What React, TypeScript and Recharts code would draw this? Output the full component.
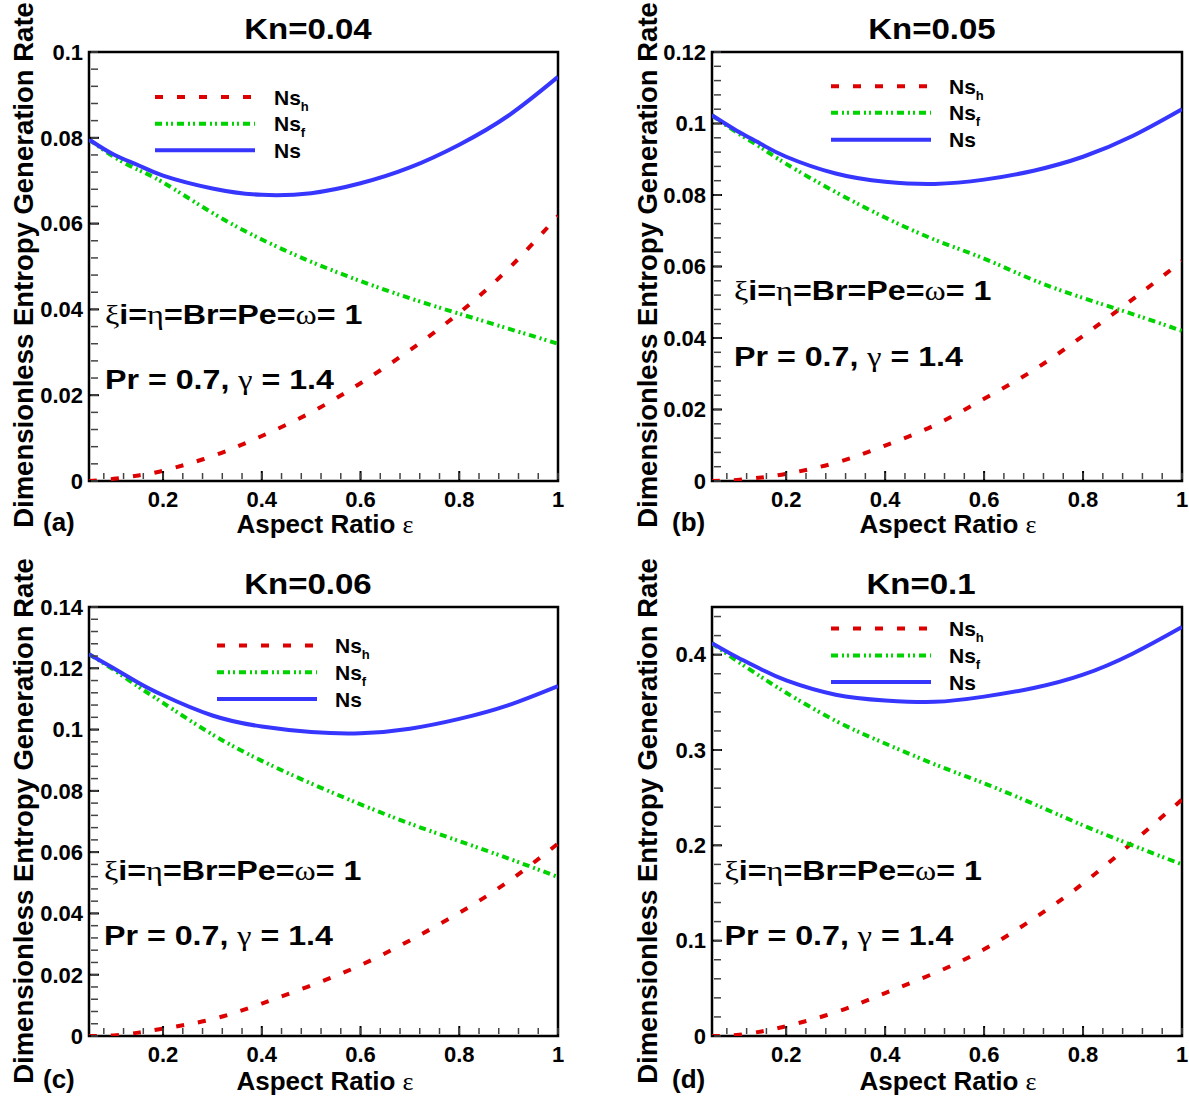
import { LineChart, Line, XAxis, YAxis, ReferenceArea } from 'recharts'

// ─── Data ─────────────────────────────────────────────────────────────────────

const EPS = [0.05, 0.1, 0.15, 0.2, 0.3, 0.4, 0.5, 0.6, 0.7, 0.8, 0.9, 1.0]

// Kn = 0.04
const A_NSH = [0, 0.0005, 0.0013, 0.0024, 0.0058, 0.0105, 0.016, 0.0228, 0.0305, 0.0392, 0.0495, 0.0618]
const A_NSF = [0.0796, 0.0756, 0.0725, 0.0696, 0.0625, 0.0563, 0.0511, 0.0466, 0.0426, 0.039, 0.0355, 0.032]
const A_NS = [0.0796, 0.0761, 0.0736, 0.0712, 0.0682, 0.0667, 0.0671, 0.0694, 0.0731, 0.0784, 0.0852, 0.0942]

// Kn = 0.05
const B_NSH = [0, 0.0003, 0.001, 0.002, 0.0051, 0.0099, 0.0156, 0.023, 0.031, 0.0406, 0.0508, 0.0615]
const B_NSF = [0.1023, 0.0975, 0.0932, 0.0887, 0.0808, 0.0737, 0.0675, 0.0622, 0.0562, 0.0512, 0.0467, 0.042]
const B_NS = [0.1023, 0.098, 0.0942, 0.0907, 0.086, 0.0837, 0.0831, 0.0843, 0.0868, 0.0907, 0.0965, 0.104]

// Kn = 0.06
const C_NSH = [0, 0.0002, 0.0011, 0.0024, 0.0055, 0.0106, 0.0165, 0.0231, 0.0312, 0.0402, 0.0505, 0.0628]
const C_NSF = [0.1246, 0.1195, 0.114, 0.1087, 0.0984, 0.0898, 0.0824, 0.0756, 0.0693, 0.0636, 0.0579, 0.0519]
const C_NS = [0.1246, 0.12, 0.1153, 0.1112, 0.1046, 0.101, 0.0992, 0.0988, 0.1003, 0.1035, 0.108, 0.1142]

// Kn = 0.1
const D_NSH = [0, 0.001, 0.0048, 0.0103, 0.0249, 0.045, 0.066, 0.091, 0.123, 0.16, 0.203, 0.248]
const D_NSF = [0.412, 0.3936, 0.3764, 0.36, 0.3306, 0.3068, 0.285, 0.265, 0.2435, 0.221, 0.2, 0.18]
const D_NS = [0.412, 0.3975, 0.3845, 0.373, 0.358, 0.352, 0.3505, 0.356, 0.365, 0.379, 0.401, 0.429]

const X_TICKS = [0.2, 0.4, 0.6, 0.8, 1]
const A_Y_TICKS = [0, 0.02, 0.04, 0.06, 0.08, 0.1]
const B_Y_TICKS = [0, 0.02, 0.04, 0.06, 0.08, 0.1, 0.12]
const C_Y_TICKS = [0, 0.02, 0.04, 0.06, 0.08, 0.1, 0.12, 0.14]
const D_Y_TICKS = [0, 0.1, 0.2, 0.3, 0.4]

// ─── Helpers ──────────────────────────────────────────────────────────────────

const FONT = '"Liberation Sans", Arial, Helvetica, sans-serif'
const SERIF = '"Liberation Serif", "DejaVu Serif", serif'

const RED = '#dd0000'
const GREEN = '#00d400'
const BLUE = '#3636ff'
const RED_DASH = '8 14'
const GREEN_DASH = '7 4 2 3 2 4'

function steps(from: number, to: number, step: number) {
  const out: number[] = []
  for (let i = 0; from + i * step <= to + 1e-9; i++) out.push(Math.round((from + i * step) * 1e5) / 1e5)
  return out
}

const X_MINOR = steps(0.08, 1, 0.04)

const tickStyle = { fontSize: 22, fontWeight: 'bold', fill: '#000', fontFamily: FONT }
const NoLabel = () => <g />

interface PanelProps {
  left: number
  top: number
  w: number
  h: number
  margin: { top: number; right: number; bottom: number; left: number }
  yMax: number
  yTicks: number[]
  yMinor: number[]
  nsh: number[]
  nsf: number[]
  ns: number[]
}

function Panel({ left, top, w, h, margin, yMax, yTicks, yMinor, nsh, nsf, ns }: PanelProps) {
  const rows = EPS.map((e, i) => ({ e, nsh: nsh[i], nsf: nsf[i], ns: ns[i] }))
  const xDom: [number, number] = [0.05, 1]
  const yDom: [number, number] = [0, yMax]
  return (
    <div style={{ position: 'absolute', left, top }}>
      <LineChart width={w} height={h} data={rows} margin={margin}>
        <XAxis xAxisId="lab" dataKey="e" type="number" domain={xDom} ticks={X_TICKS} interval={0}
          tickLine={false} axisLine={false} tickSize={0} tickMargin={10} height={30} tick={tickStyle} allowDataOverflow />
        <XAxis xAxisId="maj" dataKey="e" type="number" domain={xDom} ticks={X_TICKS} interval={0} mirror
          tick={NoLabel} tickSize={10} axisLine={false} height={2} tickLine={{ stroke: '#000', strokeWidth: 2 }} allowDataOverflow />
        <XAxis xAxisId="min" dataKey="e" type="number" domain={xDom} ticks={X_MINOR} interval={0} mirror
          tick={NoLabel} tickSize={6} axisLine={false} height={2} tickLine={{ stroke: '#444', strokeWidth: 1.5 }} allowDataOverflow />
        <YAxis yAxisId="lab" type="number" domain={yDom} ticks={yTicks} interval={0}
          tickLine={false} axisLine={false} tickSize={0} tickMargin={6} width={60} tick={tickStyle} allowDataOverflow />
        <YAxis yAxisId="maj" type="number" domain={yDom} ticks={yTicks} interval={0} mirror
          tick={NoLabel} tickSize={10} axisLine={false} width={2} tickLine={{ stroke: '#000', strokeWidth: 2 }} allowDataOverflow />
        <YAxis yAxisId="min" type="number" domain={yDom} ticks={yMinor} interval={0} mirror
          tick={NoLabel} tickSize={7} axisLine={false} width={2} tickLine={{ stroke: '#444', strokeWidth: 1.5 }} allowDataOverflow />
        <Line xAxisId="lab" yAxisId="lab" type="natural" dataKey="nsh" stroke={RED} strokeWidth={4}
          strokeDasharray={RED_DASH} dot={false} isAnimationActive={false} />
        <Line xAxisId="lab" yAxisId="lab" type="natural" dataKey="nsf" stroke={GREEN} strokeWidth={4}
          strokeDasharray={GREEN_DASH} dot={false} isAnimationActive={false} />
        <Line xAxisId="lab" yAxisId="lab" type="natural" dataKey="ns" stroke={BLUE} strokeWidth={4}
          dot={false} isAnimationActive={false} />
        <ReferenceArea xAxisId="lab" yAxisId="lab" x1={0.05} x2={1} y1={0} y2={yMax}
          fill="none" fillOpacity={0} stroke="#000" strokeWidth={2.5} />
      </LineChart>
    </div>
  )
}

// ─── Text overlay ─────────────────────────────────────────────────────────────

function T({ x, y, size, sx = 1, anchor = 'start', rotate = 0, children }: {
  x: number; y: number; size: number; sx?: number; anchor?: string; rotate?: number; children: React.ReactNode
}) {
  return (
    <text transform={`translate(${x},${y}) rotate(${rotate}) scale(${sx},1)`} fontSize={size} fontWeight="bold"
      fontFamily={FONT} textAnchor={anchor as any} fill="#000">
      {children}
    </text>
  )
}

const G = ({ c }: { c: string }) => <tspan fontFamily={SERIF} fontWeight="normal">{c}</tspan>

interface Deco {
  title: string
  titleX: number
  titleY: number
  tag: string
  tagX: number
  tagY: number
  yLabX: number
  yLabY: number
  xLabX: number
  xLabY: number
  legX: number
  legY: number[]
  legTextX: number
  noteX: number
  noteY1: number
  noteY2: number
}

const DECO: Deco[] = [
  { title: 'Kn=0.04', titleX: 308, titleY: 39, tag: '(a)', tagX: 43, tagY: 531, yLabX: 33, yLabY: 265, xLabX: 325, xLabY: 533,
    legX: 155, legY: [97, 123.7, 150.3], legTextX: 274, noteX: 105, noteY1: 323.5, noteY2: 389 },
  { title: 'Kn=0.05', titleX: 932, titleY: 39, tag: '(b)', tagX: 672, tagY: 531, yLabX: 657, yLabY: 265, xLabX: 948, xLabY: 533,
    legX: 831, legY: [86.2, 112.8, 139.7], legTextX: 949, noteX: 734, noteY1: 300, noteY2: 365.5 },
  { title: 'Kn=0.06', titleX: 308, titleY: 594, tag: '(c)', tagX: 43, tagY: 1088, yLabX: 33, yLabY: 821, xLabX: 325, xLabY: 1090,
    legX: 217, legY: [645.4, 672.2, 699.1], legTextX: 335, noteX: 104, noteY1: 880, noteY2: 944.7 },
  { title: 'Kn=0.1', titleX: 921, titleY: 594, tag: '(d)', tagX: 672, tagY: 1088, yLabX: 657, yLabY: 821, xLabX: 948, xLabY: 1090,
    legX: 831, legY: [628.6, 655.5, 682], legTextX: 949, noteX: 724.5, noteY1: 880, noteY2: 944.7 },
]

function Overlay() {
  return (
    <svg width={1189} height={1097} style={{ position: 'absolute', left: 0, top: 0, pointerEvents: 'none' }}>
      {DECO.map((d) => (
        <g key={d.tag}>
          <T x={d.titleX} y={d.titleY} size={30} sx={1.1} anchor="middle">{d.title}</T>
          <T x={d.tagX} y={d.tagY} size={26}>{d.tag}</T>
          <T x={d.yLabX} y={d.yLabY} size={27.5} rotate={-90} anchor="middle">Dimensionless Entropy Generation Rate</T>
          <T x={d.xLabX} y={d.xLabY} size={26} anchor="middle">Aspect Ratio <G c="ε" /></T>
          <T x={d.noteX} y={d.noteY1} size={28} sx={1.15}>
            <G c="ξ" />i=<G c="η" />=Br=Pe=<G c="ω" />= 1
          </T>
          <T x={d.noteX} y={d.noteY2} size={28} sx={1.15}>
            Pr = 0.7, <G c="γ" /> = 1.4
          </T>
          {/* legend */}
          <line x1={d.legX} x2={d.legX + 100} y1={d.legY[0]} y2={d.legY[0]} stroke={RED} strokeWidth={4} strokeDasharray={RED_DASH} />
          <line x1={d.legX} x2={d.legX + 100} y1={d.legY[1]} y2={d.legY[1]} stroke={GREEN} strokeWidth={4} strokeDasharray={GREEN_DASH} />
          <line x1={d.legX} x2={d.legX + 100} y1={d.legY[2]} y2={d.legY[2]} stroke={BLUE} strokeWidth={4} />
          <T x={d.legTextX} y={d.legY[0] + 7.5} size={21}>Ns<tspan fontSize={13} dy={6}>h</tspan></T>
          <T x={d.legTextX} y={d.legY[1] + 7.5} size={21}>Ns<tspan fontSize={13} dy={6}>f</tspan></T>
          <T x={d.legTextX} y={d.legY[2] + 7.5} size={21}>Ns</T>
        </g>
      ))}
    </svg>
  )
}

// ─── Component ────────────────────────────────────────────────────────────────

export default function App() {
  return (
    <div style={{ position: 'absolute', left: 0, top: 0, width: 1189, height: 1097, background: '#fff', fontFamily: FONT }}>
      <Panel left={0} top={0} w={594} h={545} margin={{ top: 52, right: 36, bottom: 34, left: 29 }}
        yMax={0.1} yTicks={A_Y_TICKS} yMinor={steps(0, 0.1, 0.004)} nsh={A_NSH} nsf={A_NSF} ns={A_NS} />
      <Panel left={600} top={0} w={589} h={545} margin={{ top: 52, right: 7, bottom: 34, left: 52 }}
        yMax={0.12} yTicks={B_Y_TICKS} yMinor={steps(0, 0.12, 0.004)} nsh={B_NSH} nsf={B_NSF} ns={B_NS} />
      <Panel left={0} top={550} w={594} h={547} margin={{ top: 57, right: 36, bottom: 31, left: 29 }}
        yMax={0.14} yTicks={C_Y_TICKS} yMinor={steps(0, 0.14, 0.004)} nsh={C_NSH} nsf={C_NSF} ns={C_NS} />
      <Panel left={600} top={550} w={589} h={547} margin={{ top: 57, right: 7, bottom: 31, left: 52 }}
        yMax={0.45} yTicks={D_Y_TICKS} yMinor={steps(0, 0.44, 0.02)} nsh={D_NSH} nsf={D_NSF} ns={D_NS} />
      <Overlay />
    </div>
  )
}
